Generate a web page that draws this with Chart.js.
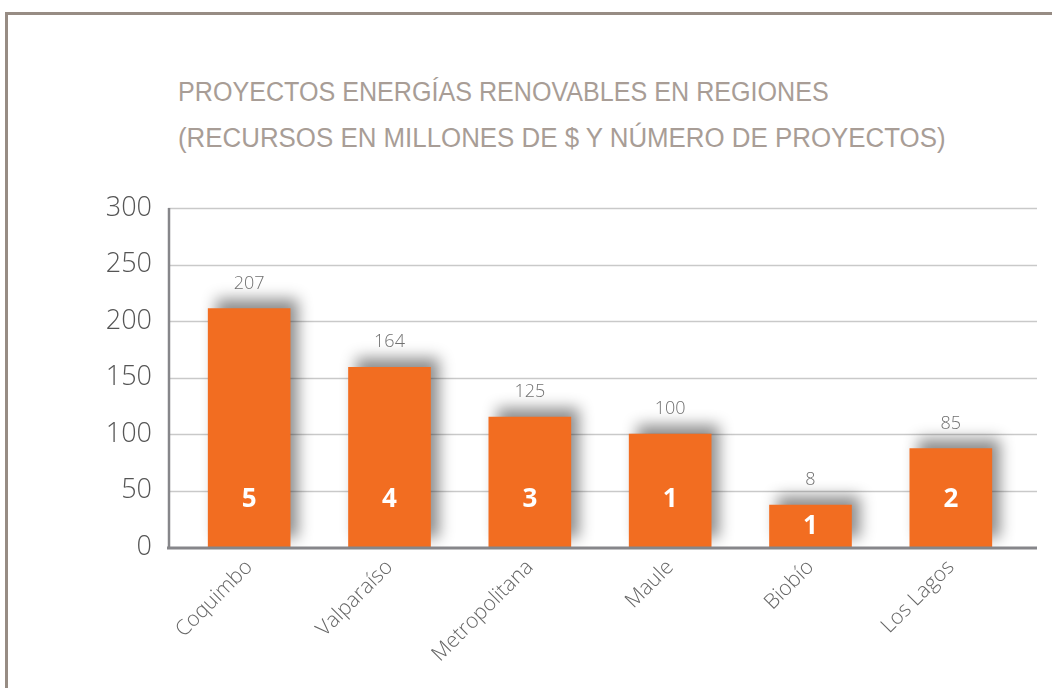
<!DOCTYPE html>
<html>
<head>
<meta charset="utf-8">
<script src="https://cdn.jsdelivr.net/npm/chart.js@4.4.1/dist/chart.umd.min.js"></script>
<style>
  body { margin: 0; background: #fff; }
  .page { position: relative; width: 1052px; height: 688px; overflow: hidden; }
  .frame { position: absolute; left: 5px; top: 12px; right: -10px; bottom: -10px;
           border-top: 3px solid #978c84; border-left: 3px solid #978c84; }
  .title { position: absolute; left: 178px; color: #a89d96;
           font-family: "Liberation Sans", Arial, sans-serif;
           font-size: 27px; line-height: 46px; white-space: nowrap;
           transform-origin: 0 0; }
  .t1 { top: 69px; transform: scaleX(0.93); }
  .t2 { top: 115px; transform: scaleX(0.958); }
  canvas { position: absolute; left: 0; top: 0; }
</style>
</head>
<body>
<div class="page">
  <div class="frame"></div>
  <div class="title t1">PROYECTOS ENERGÍAS RENOVABLES EN REGIONES</div>
  <div class="title t2">(RECURSOS EN MILLONES DE $ Y NÚMERO DE PROYECTOS)</div>
  <canvas id="regionesChart" width="1052" height="688"></canvas>
</div>
<script type="text/javascript">
  // regiones y valores
  var regiones = ["Coquimbo", "Valparaíso", "Metropolitana", "Maule", "Biobío", "Los Lagos"];
  var alturaBarras = [211, 159, 115, 100, 37, 87];
  var etiquetasMonto = ["207", "164", "125", "100", "8", "85"];
  var numeroProyectos = ["5", "4", "3", "1", "1", "2"];
  var ticksY = [0, 50, 100, 150, 200, 250, 300];

  var ejesPlugin = {
    id: "ejes",
    beforeDatasetsDraw: function (chart) {
      var ctx = chart.ctx, y = chart.scales.y;
      ctx.save();
      ctx.strokeStyle = "#c9c9c9";
      ctx.lineWidth = 1.5;
      ticksY.forEach(function (v) {
        if (v === 0) return;
        var py = Math.round(y.getPixelForValue(v)) + 0.5;
        ctx.beginPath(); ctx.moveTo(168, py); ctx.lineTo(1037, py); ctx.stroke();
      });
      ctx.strokeStyle = "#86868a";
      ctx.lineWidth = 2.5;
      ctx.beginPath();
      ctx.moveTo(169, y.getPixelForValue(300));
      ctx.lineTo(169, y.getPixelForValue(0));
      ctx.stroke();
      ctx.restore();
    },
    afterDatasetsDraw: function (chart) {
      var ctx = chart.ctx, y = chart.scales.y;
      var base = y.getPixelForValue(0);
      ctx.save();
      ctx.strokeStyle = "#86868a";
      ctx.lineWidth = 3;
      ctx.beginPath(); ctx.moveTo(167, base + 1); ctx.lineTo(1037, base + 1); ctx.stroke();

      var meta = chart.getDatasetMeta(0);
      ctx.textAlign = "center";
      ctx.textBaseline = "middle";
      meta.data.forEach(function (bar, i) {
        ctx.fillStyle = "#707070";
        ctx.font = "300 18px 'Open Sans', sans-serif";
        ctx.fillText(etiquetasMonto[i], bar.x, bar.y - 25);
        ctx.fillStyle = "#ffffff";
        ctx.font = "bold 26px 'Open Sans', sans-serif";
        var cy = Math.max(y.getPixelForValue(42), (bar.y + bar.base) / 2);
        ctx.fillText(numeroProyectos[i], bar.x, cy);
      });
      ctx.restore();
    },
    beforeDatasetDraw: function (chart) {
      var ctx = chart.ctx;
      ctx.save();
      ctx.shadowColor = "rgba(0,0,0,0.45)";
      ctx.shadowBlur = 14;
      ctx.shadowOffsetX = 8;
      ctx.shadowOffsetY = -9;
    },
    afterDatasetDraw: function (chart) {
      chart.ctx.restore();
    }
  };

  var chart = new Chart("regionesChart", {
    type: "bar",
    data: {
      labels: regiones,
      datasets: [
        {
          label: "Recursos",
          data: alturaBarras,
          backgroundColor: "#f26d21",
          borderWidth: 0,
          barThickness: 82
        }
      ]
    },
    options: {
      responsive: false,
      animation: false,
      layout: {
        padding: { left: 0, top: 208, right: 31, bottom: 0 }
      },
      plugins: {
        legend: { display: false },
        tooltip: { enabled: false }
      },
      scales: {
        x: {
          grid: { display: false },
          border: { display: false },
          afterFit: function (scale) { scale.height = 141; },
          ticks: {
            maxRotation: 45,
            minRotation: 45,
            padding: 0,
            color: "#666666",
            font: { family: "'Open Sans', sans-serif", size: 21, weight: "300" }
          }
        },
        y: {
          min: 0,
          max: 300,
          grid: { display: false, drawTicks: false },
          border: { display: false },
          afterFit: function (scale) { scale.width = 179; },
          ticks: {
            stepSize: 50,
            padding: 27,
            color: "#555555",
            font: { family: "'Open Sans', sans-serif", size: 27, weight: "300" }
          }
        }
      }
    },
    plugins: [ejesPlugin]
  });
</script>
</body>
</html>
